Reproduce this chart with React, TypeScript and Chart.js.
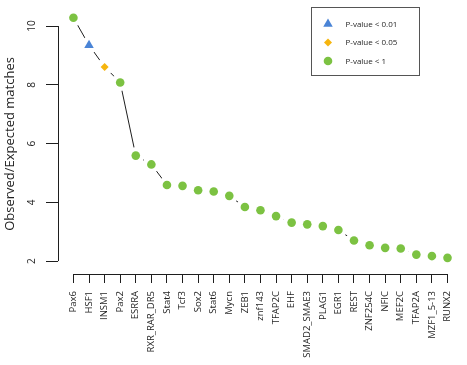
import React, { useEffect, useRef } from "react";
import { Chart, registerables } from "chart.js";

Chart.register(...registerables);

const CATEGORIES = [
  "Pax6", "HSF1", "INSM1", "Pax2", "ESRRA", "RXR_RAR_DR5", "Stat4", "Tcf3", "Sox2",
  "Stat6", "Mycn", "ZEB1", "znf143", "TFAP2C", "EHF", "SMAD2_SMAE3", "PLAG1", "EGR1",
  "REST", "ZNF254C", "NFIC", "MEF2C", "TFAP2A", "MZF1_5-13", "RUNX2",
];

const VALUES = [
  10.28, 9.35, 8.61, 8.08, 5.59, 5.29, 4.59, 4.56, 4.41, 4.37, 4.22, 3.84, 3.73,
  3.53, 3.31, 3.25, 3.19, 3.06, 2.7, 2.54, 2.45, 2.43, 2.22, 2.17, 2.11,
];

// significance class of each point: 0 => P < 0.01, 1 => P < 0.05, 2 => P < 1
const SIGNIFICANCE = [2, 0, 1, 2, 2, 2, 2, 2, 2, 2, 2, 2, 2, 2, 2, 2, 2, 2, 2, 2, 2, 2, 2, 2, 2];

const LEGEND_LABELS = ["P-value < 0.01", "P-value < 0.05", "P-value < 1"];
const Y_TICKS = [2, 4, 6, 8, 10];

const CLASS_STYLE = [
  { style: "triangle", color: "#4a84d6", radius: 5.5 },
  { style: "rectRot", color: "#f6b50e", radius: 4 },
  { style: "circle", color: "#7cc242", radius: 4.3 },
];

const FONT = "'Open Sans', 'Noto Sans', sans-serif";
const INK = "#1e1e1e";

const axisAndLegendPlugin = {
  id: "axisAndLegend",
  afterDraw(chart: any) {
    const ctx = chart.ctx;
    const xs = chart.scales.x;
    const ys = chart.scales.y;
    const area = chart.chartArea;
    ctx.save();
    ctx.strokeStyle = INK;
    ctx.lineWidth = 1;
    const yl = Math.round(area.left) + 0.5;
    ctx.beginPath();
    ctx.moveTo(yl, ys.getPixelForValue(Y_TICKS[0]));
    ctx.lineTo(yl, ys.getPixelForValue(Y_TICKS[Y_TICKS.length - 1]));
    ctx.stroke();
    const xb = Math.round(area.bottom) + 0.5;
    ctx.beginPath();
    ctx.moveTo(xs.getPixelForValue(0), xb);
    ctx.lineTo(xs.getPixelForValue(CATEGORIES.length - 1), xb);
    ctx.stroke();

    const bx = 311.5, by = 7.5, bw = 108, bh = 68;
    ctx.strokeStyle = "#555";
    ctx.strokeRect(bx, by, bw, bh);
    const rowsY = [24, 42.5, 61];
    const mx = 328;
    ctx.font = `8px ${FONT}`;
    ctx.textBaseline = "middle";
    ctx.textAlign = "left";
    LEGEND_LABELS.forEach((label, i) => {
      const st = CLASS_STYLE[i];
      const y = rowsY[i];
      ctx.fillStyle = st.color;
      ctx.beginPath();
      if (st.style === "triangle") {
        const r = st.radius;
        ctx.moveTo(mx, y - r);
        ctx.lineTo(mx + r * 0.866, y + r * 0.5);
        ctx.lineTo(mx - r * 0.866, y + r * 0.5);
        ctx.closePath();
      } else if (st.style === "rectRot") {
        const r = st.radius;
        ctx.moveTo(mx, y - r);
        ctx.lineTo(mx + r, y);
        ctx.lineTo(mx, y + r);
        ctx.lineTo(mx - r, y);
        ctx.closePath();
      } else {
        ctx.arc(mx, y, st.radius, 0, Math.PI * 2);
      }
      ctx.fill();
      ctx.fillStyle = INK;
      ctx.fillText(label, 345.5, y + 0.5);
    });
    ctx.restore();
  },
};

export default function App() {
  const canvasRef = useRef<HTMLCanvasElement | null>(null);

  useEffect(() => {
    if (!canvasRef.current) return;
    const points = VALUES.map((v, i) => ({ x: i, y: v }));
    const chart = new Chart(canvasRef.current, {
      type: "line",
      data: {
        datasets: [
          {
            label: "markers",
            data: points,
            showLine: false,
            pointStyle: SIGNIFICANCE.map((s) => CLASS_STYLE[s].style) as any,
            pointBackgroundColor: SIGNIFICANCE.map((s) => CLASS_STYLE[s].color),
            pointRadius: SIGNIFICANCE.map((s) => CLASS_STYLE[s].radius),
            pointBorderWidth: 0,
            pointHoverRadius: SIGNIFICANCE.map((s) => CLASS_STYLE[s].radius),
            clip: false as any,
          },
          {
            label: "line",
            data: points,
            showLine: true,
            borderColor: INK,
            borderWidth: 1,
            pointStyle: "circle",
            pointRadius: 8.6,
            pointHoverRadius: 8.6,
            pointBackgroundColor: "#ffffff",
            pointBorderWidth: 0,
            tension: 0,
            clip: false as any,
          },
        ],
      },
      options: {
        animation: false,
        responsive: false,
        layout: { padding: 0 },
        plugins: {
          legend: { display: false },
          tooltip: { enabled: false },
        },
        events: [],
        scales: {
          x: {
            type: "linear",
            min: -0.99,
            max: 24.27,
            afterBuildTicks: (scale: any) => {
              scale.ticks = CATEGORIES.map((_, i) => ({ value: i }));
            },
            afterFit: (scale: any) => {
              scale.height = 91;
            },
            border: { display: false },
            grid: {
              display: true,
              drawOnChartArea: false,
              drawTicks: true,
              tickLength: 9,
              color: INK,
              lineWidth: 1,
            },
            ticks: {
              autoSkip: false,
              minRotation: 90,
              maxRotation: 90,
              padding: 8,
              color: INK,
              font: { size: 9.5, family: FONT },
              callback: (v: any) => CATEGORIES[Math.round(Number(v))] ?? "",
            },
          },
          y: {
            type: "linear",
            min: 1.56,
            max: 10.41,
            afterBuildTicks: (scale: any) => {
              scale.ticks = Y_TICKS.map((v) => ({ value: v }));
            },
            afterFit: (scale: any) => {
              scale.width = 58;
            },
            border: { display: false },
            grid: {
              display: true,
              drawOnChartArea: false,
              drawTicks: true,
              tickLength: 12,
              color: INK,
              lineWidth: 1,
            },
            title: {
              display: true,
              text: "Observed/Expected matches",
              color: INK,
              font: { size: 13, family: FONT },
              padding: { top: 2, bottom: 0 },
            },
            ticks: {
              minRotation: 90,
              maxRotation: 90,
              crossAlign: "center",
              padding: 8,
              color: INK,
              font: { size: 10, family: FONT },
              callback: (v: any) => String(v),
            },
          },
        },
      },
      plugins: [axisAndLegendPlugin],
    });
    return () => chart.destroy();
  }, []);

  return (
    <div style={{ position: "fixed", left: 0, top: 0, width: 467, height: 365, background: "#fff" }}>
      <canvas ref={canvasRef} width={467} height={365} style={{ display: "block" }} />
    </div>
  );
}
